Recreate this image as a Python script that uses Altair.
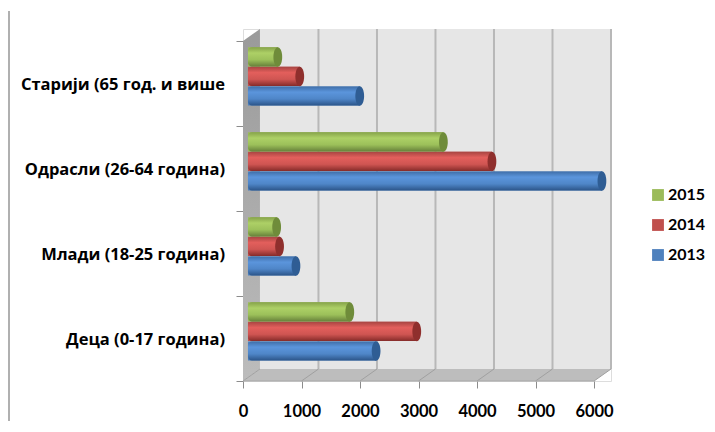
import altair as alt
import pandas as pd

categories = ["Деца (0-17 година)", "Млади (18-25 година)", "Одрасли (26-64 година)", "Старији (65 год. и више"]
years = ["2013", "2014", "2015"]
v2013 = [2190, 820, 6050, 1910]
v2014 = [2885, 540, 4170, 885]
v2015 = [1740, 490, 3340, 510]
x_ticks = [0, 1000, 2000, 3000, 4000, 5000, 6000]
flat = {"2013": "#4f81bd", "2014": "#c0504d", "2015": "#9bbb59"}
shades = {
    "2013": ["#3f6ea8", "#5b95dc", "#4f86c8", "#2b5488"],
    "2014": ["#a84542", "#e35f5c", "#cf5552", "#852b29"],
    "2015": ["#86a34a", "#add066", "#9cc05a", "#66803a"],
}
caps = {"2013": "#2f5d94", "2014": "#8f2f2d", "2015": "#6f8c3a"}

DX = 290      # depth of the box along x, in value units
DY = 0.141    # depth of the box along y, in category units
BASE = 85
H = 0.23
XMAX = 6290
YMAX = 4 + DY

rows = []
for s, (y, vals) in enumerate(zip(years, [v2013, v2014, v2015])):
    for c, v in enumerate(vals):
        mid = c + 0.353 + s * H
        rows.append({"cat": categories[c], "year": y, "x0": BASE, "x1": BASE + v,
                     "y0": mid - H / 2 + 0.002, "y1": mid + H / 2 - 0.002, "ym": mid})
df = pd.DataFrame(rows)

xs = alt.Scale(domain=[0, XMAX], nice=False, zero=False)
ys = alt.Scale(domain=[0, YMAX], nice=False, zero=False)
x_axis = alt.Axis(values=x_ticks, title=None, grid=False, domain=False, tickColor="#8c8c8c", tickSize=7,
                  labelFont="Lato", labelFontWeight="bold", labelFontSize=16.5, labelColor="#000000",
                  labelPadding=15, labelOverlap=False, labelFlush=False, format="d")
y_axis = alt.Axis(values=[0, 1, 2, 3, 4], title=None, grid=False, domain=False, labels=False,
                  tickColor="#8c8c8c", tickSize=7)
X = lambda f: alt.X(f, type="quantitative", scale=xs, axis=x_axis)
Y = lambda f: alt.Y(f, type="quantitative", scale=ys, axis=y_axis)

def grad(stops):
    return alt.Gradient(gradient="linear", x1=0, y1=0, x2=0, y2=1, stops=[
        alt.GradientStop(color=c, offset=o) for c, o in stops])

back = alt.Chart(pd.DataFrame({"a": [DX], "b": [XMAX], "c": [DY], "d": [YMAX]})).mark_rect(color="#e6e6e6").encode(
    x=X("a"), x2="b", y=Y("c"), y2="d")

left = alt.Chart(pd.DataFrame({"x": [0, DX], "lo": [0, DY], "hi": [4, YMAX]})).mark_area(
    orient="vertical", color=grad([("#9a9a9a", 0), ("#bcbcbc", 1)])).encode(
    x=X("x"), y=Y("lo"), y2="hi")

floor = alt.Chart(pd.DataFrame({"x": [0, DX, 6000, XMAX], "lo": [0, 0, 0, DY], "hi": [0, DY, DY, DY]})).mark_area(
    orient="vertical", color="#bdbdbd").encode(x=X("x"), y=Y("lo"), y2="hi")

grid_df = pd.DataFrame({"a": [t + DX for t in x_ticks[1:]], "lo": DY, "hi": YMAX})
grid = alt.Chart(grid_df).mark_rule(color="#b8b8b8", strokeWidth=2).encode(x=X("a"), y=Y("lo"), y2="hi")

diag_df = pd.DataFrame({"a": x_ticks, "b": [t + DX for t in x_ticks], "lo": 0.0, "hi": DY})
diag = alt.Chart(diag_df).mark_rule(color="#a0a0a0", strokeWidth=1).encode(x=X("a"), x2="b", y=Y("lo"), y2="hi")

axes = alt.Chart(pd.DataFrame({"x": [0, 6000], "y": [0, 0]})).mark_line(color="#a6a6a6", strokeWidth=1).encode(
    x=X("x"), y=Y("y"))

base_bars = alt.Chart(df).mark_rect().encode(
    x=X("x0"), x2="x1", y=Y("y0"), y2="y1",
    color=alt.Color("year:N", scale=alt.Scale(domain=years[::-1], range=[flat[y] for y in years[::-1]]),
                    legend=alt.Legend(title=None, orient="none", legendX=407, legendY=158, symbolType="square",
                                      symbolSize=140, symbolStrokeWidth=0, labelFont="Lato", labelFontWeight="bold",
                                      labelFontSize=16, labelColor="#000000", rowPadding=14, labelOffset=2)),
)

layers = [back, left, floor, grid, diag, axes, base_bars]
for y in years:
    sub = df[df.year == y]
    st = shades[y]
    layers.append(alt.Chart(sub).mark_rect(
        color=grad([(st[0], 0), (st[1], 0.3), (st[2], 0.65), (st[3], 1)]),
        cornerRadiusTopLeft=4, cornerRadiusBottomLeft=4).encode(
        x=X("x0"), x2="x1", y=Y("y0"), y2="y1"))
    layers.append(alt.Chart(sub).mark_point(
        filled=True, opacity=1, color=caps[y], size=380,
        shape="M -0.45 0 C -0.45 -0.55 -0.25 -1 0 -1 C 0.25 -1 0.45 -0.55 0.45 0 C 0.45 0.55 0.25 1 0 1 C -0.25 1 -0.45 0.55 -0.45 0 Z").encode(
        x=X("x1"), y=Y("ym")))

label_df = pd.DataFrame({"cat": categories, "pos": [i + 0.48 for i in range(4)]})
labels = alt.Chart(label_df).mark_text(align="right", baseline="middle", font="Open Sans", fontWeight="bold",
                                       fontSize=16.5, color="#000000").encode(
    x=alt.value(-18), y=Y("pos"), text="cat:N")
layers.append(labels)

frame = alt.Chart(pd.DataFrame({"k": [1]})).mark_rule(color="#b0b0b0", strokeWidth=2).encode(
    x=alt.value(-234), y=alt.value(-18), y2=alt.value(392))
layers.append(frame)

chart = alt.layer(*layers).resolve_scale(color="shared").properties(
    width=368, height=352,
    padding={"left": 0, "top": 2, "right": 0, "bottom": 0},
).configure_view(stroke=None).configure(background="#ffffff")

chart.save("out.html", embed_options={"renderer": "svg", "actions": False})
